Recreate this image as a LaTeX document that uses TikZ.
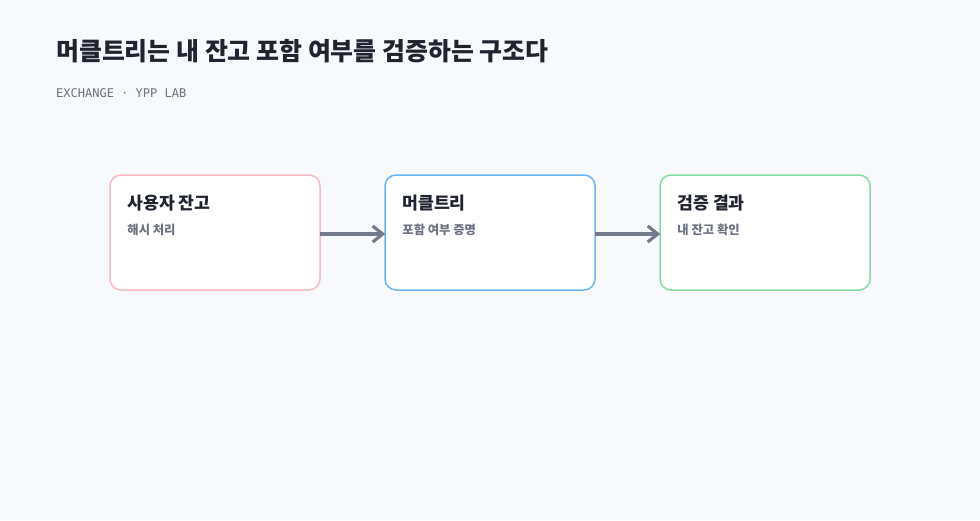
\documentclass[tikz,border=0pt]{standalone}
\usepackage{fontspec}
\setmainfont{Noto Sans CJK KR}
\setmonofont{DejaVu Sans Mono}
\usetikzlibrary{arrows.meta,positioning,calc}
\definecolor{pagebg}{HTML}{F8F9FC}
\definecolor{inkdark}{HTML}{1F2430}
\definecolor{inkgray}{HTML}{6B7280}
\definecolor{arrowgray}{HTML}{737A8C}
\definecolor{edgepink}{HTML}{F9B8C4}
\definecolor{edgeblue}{HTML}{6CB4F5}
\definecolor{edgegreen}{HTML}{86DCA0}

\begin{document}
\begin{tikzpicture}[
  x=1pt, y=-1pt,
  stage/.style={draw, line width=1.5pt, rounded corners=11pt, fill=white,
    minimum width=210pt, minimum height=115pt, inner sep=0pt},
  stagetitle/.style={anchor=west, inner sep=0pt, font=\fontsize{17.2}{19}\selectfont\bfseries, text=inkdark},
  stagenote/.style={anchor=west, inner sep=0pt, font=\fontsize{12.3}{14}\selectfont\bfseries, text=inkgray},
  arr/.style={-{Straight Barb[length=10pt, width=16pt, line width=3.2pt]}, line width=3.2pt, draw=arrowgray}
]
\fill[pagebg] (0,0) rectangle (980,520);

\node[anchor=west, inner sep=0pt, font=\fontsize{24.9}{28}\selectfont\bfseries, text=inkdark]
  (title) at (56,51) {머클트리는 내 잔고 포함 여부를 검증하는 구조다};
\node[anchor=west, inner sep=0pt, font=\fontsize{12}{14}\selectfont\ttfamily, text=inkgray]
  (sub) at (56,93) {EXCHANGE · YPP LAB};

\node[stage, draw=edgepink] (user) at (215,232.5) {};
\node[stage, draw=edgeblue] (tree) at (490,232.5) {};
\node[stage, draw=edgegreen] (check) at (765,232.5) {};

\node[stagetitle] (userT) at ($(user.north west)+(18,28.5)$) {사용자 잔고};
\node[stagenote] (userN) at ($(user.north west)+(18,55.5)$) {해시 처리};
\node[stagetitle] (treeT) at ($(tree.north west)+(18,28.5)$) {머클트리};
\node[stagenote] (treeN) at ($(tree.north west)+(18,55.5)$) {포함 여부 증명};
\node[stagetitle] (checkT) at ($(check.north west)+(18,28.5)$) {검증 결과};
\node[stagenote] (checkN) at ($(check.north west)+(18,55.5)$) {내 잔고 확인};

\draw[arr] ($(user.east)+(-1,1.5)$) -- ($(tree.west)+(1,1.5)$);
\draw[arr] ($(tree.east)+(-1,1.5)$) -- ($(check.west)+(1,1.5)$);
\end{tikzpicture}
\end{document}
